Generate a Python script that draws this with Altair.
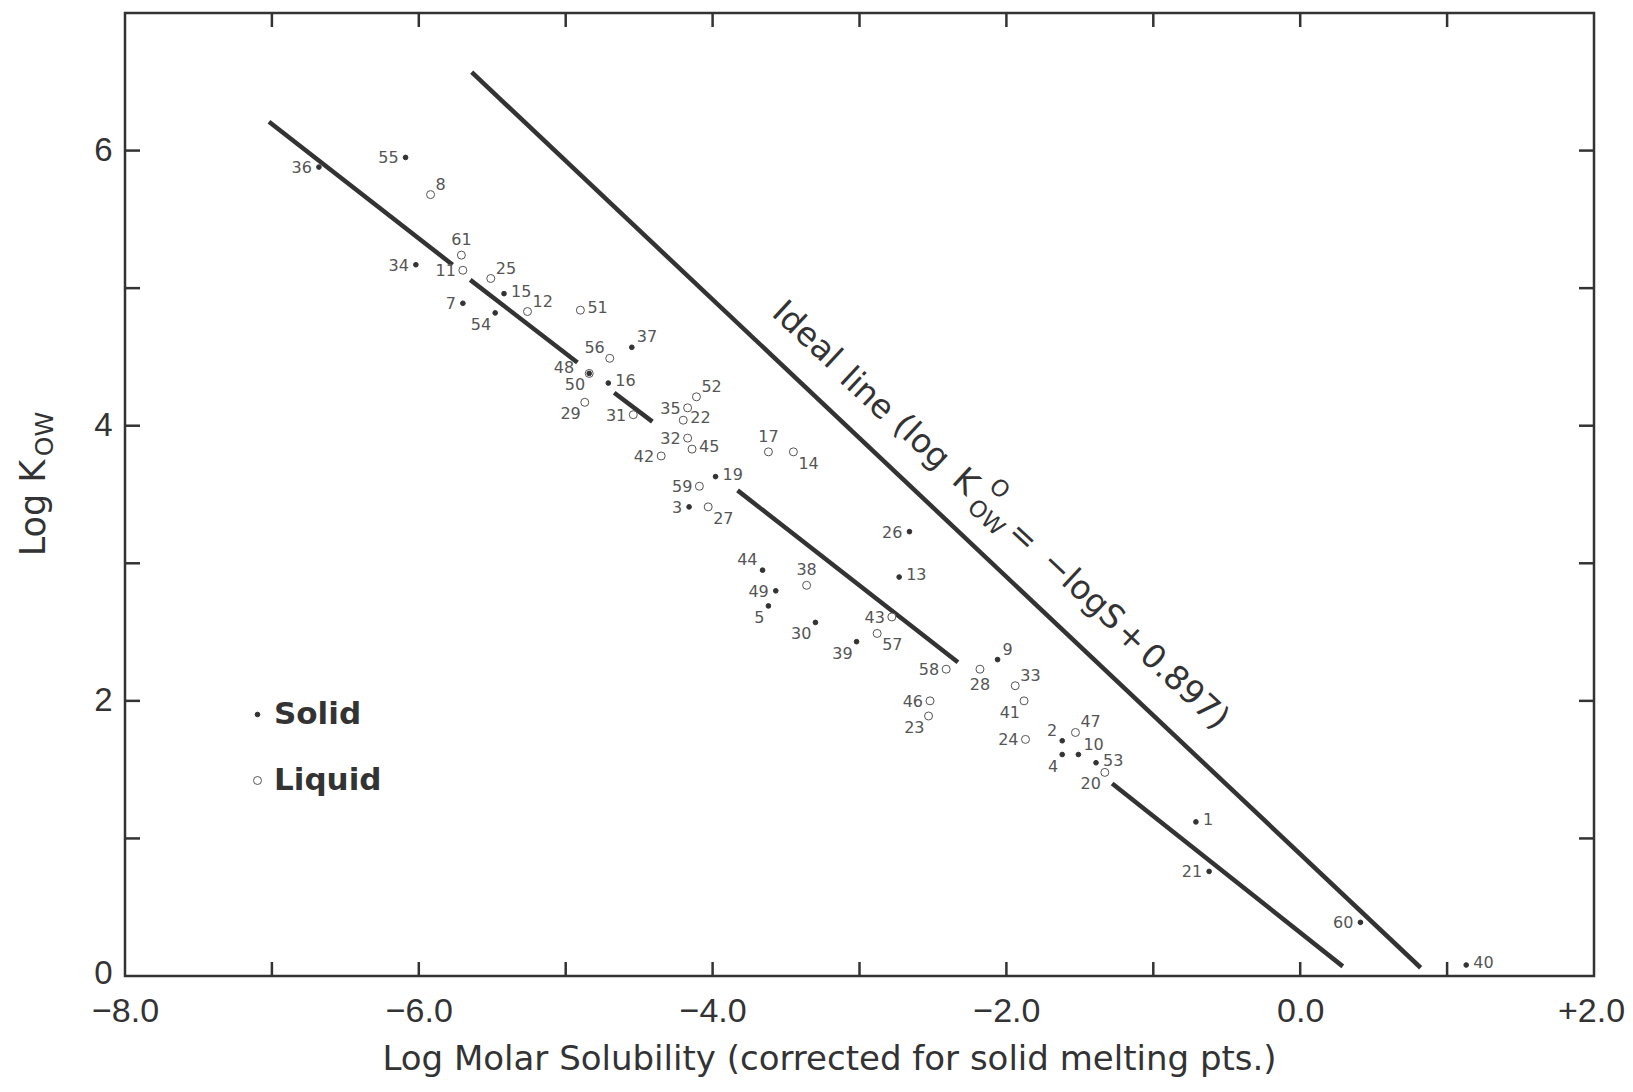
import altair as alt
import pandas as pd

# ---------------- data ----------------
ids = [36, 55, 8, 61, 11, 34, 25, 15, 7, 54, 12, 51, 56, 37, 48, 50, 16, 29, 31, 35,
       52, 22, 32, 45, 42, 17, 14, 59, 19, 3, 27, 26, 44, 38, 13, 49, 5, 43, 30, 57,
       39, 58, 28, 9, 33, 41, 46, 23, 24, 2, 47, 4, 10, 53, 20, 1, 21, 60, 40]
log_s = [-6.68, -6.09, -5.92, -5.71, -5.70, -6.02, -5.51, -5.42, -5.70, -5.48,
         -5.26, -4.90, -4.70, -4.55, -4.84, -4.84, -4.71, -4.87, -4.54, -4.17,
         -4.11, -4.20, -4.17, -4.14, -4.35, -3.62, -3.45, -4.09, -3.98, -4.16,
         -4.03, -2.66, -3.66, -3.36, -2.73, -3.57, -3.62, -2.78, -3.30, -2.88,
         -3.02, -2.41, -2.18, -2.06, -1.94, -1.88, -2.52, -2.53, -1.87, -1.62,
         -1.53, -1.62, -1.51, -1.39, -1.33, -0.71, -0.62, 0.41, 1.13]
log_kow = [5.88, 5.95, 5.68, 5.24, 5.13, 5.17, 5.07, 4.96, 4.89, 4.82,
           4.83, 4.84, 4.49, 4.57, 4.38, 4.38, 4.31, 4.17, 4.08, 4.13,
           4.21, 4.04, 3.91, 3.83, 3.78, 3.81, 3.81, 3.56, 3.63, 3.41,
           3.41, 3.23, 2.95, 2.84, 2.90, 2.80, 2.69, 2.61, 2.57, 2.49,
           2.43, 2.23, 2.23, 2.30, 2.11, 2.00, 2.00, 1.89, 1.72, 1.71,
           1.77, 1.61, 1.61, 1.55, 1.48, 1.12, 0.76, 0.39, 0.08]
states = ["Solid", "Solid", "Liquid", "Liquid", "Liquid", "Solid", "Liquid", "Solid", "Solid", "Solid",
          "Liquid", "Liquid", "Liquid", "Solid", "Liquid", "Solid", "Solid", "Liquid", "Liquid", "Liquid",
          "Liquid", "Liquid", "Liquid", "Liquid", "Liquid", "Liquid", "Liquid", "Liquid", "Solid", "Solid",
          "Liquid", "Solid", "Solid", "Liquid", "Solid", "Solid", "Solid", "Liquid", "Solid", "Liquid",
          "Solid", "Liquid", "Liquid", "Solid", "Liquid", "Liquid", "Liquid", "Liquid", "Liquid", "Solid",
          "Liquid", "Solid", "Solid", "Solid", "Liquid", "Solid", "Solid", "Solid", "Solid"]
# which side of its symbol each number is written on
label_side = ["l", "l", "ur", "a", "l", "l", "ur", "r", "l", "bl",
              "ur", "r", "ul", "ur", "ll", "bl", "r", "bl", "l", "l",
              "ur", "r", "l", "r", "l", "a", "br", "l", "r", "l",
              "br", "l", "ul", "a", "r", "l", "bl", "l", "bl", "br",
              "bl", "l", "b", "ur", "ur", "bl", "l", "bl", "l", "ul",
              "ur", "bl", "ur", "r", "bl", "r", "l", "l", "r"]

# fitted (broken) regression line, segment by segment
reg_seg = [1, 1, 2, 2, 3, 3, 4, 4, 5, 5]
reg_x = [-7.02, -5.77, -5.65, -4.92, -4.67, -4.41, -3.83, -2.33, -1.28, 0.29]
reg_y = [6.21, 5.17, 5.06, 4.46, 4.24, 4.03, 3.53, 2.28, 1.40, 0.07]

# ideal line end points
ideal_x = [-5.64, 0.82]
ideal_y = [6.57, 0.06]

# rotated annotation along the ideal line
ann_words = ["Ideal", "line", "(log", "K", "=", "\u2212logS", "+", "0.897)"]
ann_x = [-3.36, -2.95, -2.58, -2.28, -1.89, -1.48, -1.15, -0.79]
ann_y = [4.66, 4.23, 3.88, 3.59, 3.19, 2.80, 2.46, 2.10]
sub_words = ["OW", "O"]
sub_x = [-2.14, -2.05]
sub_y = [3.33, 3.54]

x_label_values = [-8, -6, -4, -2, 0, 2]
y_label_values = [0, 2, 4, 6]
x_tick_values = [-7, -6, -5, -4, -3, -2, -1, 0, 1]
y_tick_values = [1, 2, 3, 4, 5, 6]

x_title = "Log Molar Solubility (corrected for solid melting pts.)"
y_title_main = "Log K"
y_title_sub = "OW"

# ---------------- chart ----------------
W, H = 1469, 963
INK = "#333333"
FONT = "DejaVu Sans"
TFONT = "Liberation Sans"

pts = pd.DataFrame({"id": ids, "x": log_s, "y": log_kow, "state": states, "side": label_side})
pts["order"] = (pts["state"] == "Solid").astype(int)
pts = pts.sort_values("order", kind="stable")

xsc = alt.Scale(domain=[-8, 2], nice=False, zero=False)
ysc = alt.Scale(domain=[0, 7], nice=False, zero=False)

xaxis = alt.Axis(values=x_label_values, ticks=False, tickSize=0, domain=False, grid=False,
                 labelFontSize=34, labelFont=TFONT, labelColor=INK, labelPadding=18,
                 labelFlush=False, labelOverlap=False,
                 labelOffset={"condition": {"test": "datum.value == 2", "value": -3}, "value": 0},
                 labelExpr="datum.value > 0 ? '+' + format(datum.value, '.1f') : format(datum.value, '.1f')",
                 title=x_title, titleFont=FONT, titleFontSize=34, titleFontWeight="normal",
                 titleColor=INK, titleX=704, titleY=93, titleAlign="center", titleBaseline="alphabetic")
yaxis = alt.Axis(values=y_label_values, ticks=False, tickSize=0, domain=False, grid=False,
                 labelFontSize=33, labelFont=TFONT, labelColor=INK, labelPadding=13,
                 labelFlush=False, labelOverlap=False, format="d", title=None,
                 labelOffset={"condition": {"test": "datum.value == 0", "value": -3}, "value": 0})

leg = alt.Legend(orient="none", legendX=117, legendY=686, title=None, padding=0,
                 labelFont=FONT, labelFontSize=31, labelFontWeight="bold", labelColor=INK,
                 labelOffset=1, rowPadding=34, symbolStrokeWidth=1)

state_dom = ["Solid", "Liquid"]

reg = alt.Chart(pd.DataFrame({"seg": reg_seg, "x": reg_x, "y": reg_y})).mark_line(
    color=INK, strokeWidth=4.5, strokeCap="butt").encode(
    x=alt.X("x:Q", scale=xsc, axis=xaxis),
    y=alt.Y("y:Q", scale=ysc, axis=yaxis),
    detail="seg:N")

ideal = alt.Chart(pd.DataFrame({"x": ideal_x, "y": ideal_y})).mark_line(
    color=INK, strokeWidth=4.5, strokeCap="butt").encode(
    x=alt.X("x:Q", scale=xsc), y=alt.Y("y:Q", scale=ysc))

points = alt.Chart(pts).mark_point(shape="circle", filled=True, strokeWidth=1,
                                   opacity=1, fillOpacity=1).encode(
    x=alt.X("x:Q", scale=xsc), y=alt.Y("y:Q", scale=ysc),
    fill=alt.Fill("state:N", scale=alt.Scale(domain=state_dom, range=[INK, "#ffffff"]), legend=leg),
    stroke=alt.Stroke("state:N", scale=alt.Scale(domain=state_dom, range=[INK, "#555555"]), legend=leg),
    size=alt.Size("state:N", scale=alt.Scale(domain=state_dom, range=[22, 64]), legend=leg),
    order=alt.Order("order:Q"))

side_style = {
    "l": dict(align="right", dx=-7, dy=1),
    "ll": dict(align="right", dx=-15, dy=-5),
    "r": dict(align="left", dx=7, dy=-2),
    "ur": dict(align="left", dx=5, dy=-10),
    "ul": dict(align="right", dx=-5, dy=-10),
    "bl": dict(align="right", dx=-4, dy=12),
    "br": dict(align="left", dx=5, dy=12),
    "a": dict(align="center", dx=0, dy=-15),
    "b": dict(align="center", dx=0, dy=16),
}
label_layers = []
for side, st in side_style.items():
    label_layers.append(
        alt.Chart(pts).transform_filter(alt.datum.side == side).mark_text(
            font=FONT, fontSize=16, color="#555555", baseline="middle", **st).encode(
            x=alt.X("x:Q", scale=xsc), y=alt.Y("y:Q", scale=ysc), text="id:N"))

ann = alt.Chart(pd.DataFrame({"w": ann_words, "x": ann_x, "y": ann_y})).mark_text(
    font=FONT, fontSize=33, color=INK, angle=43, align="center", baseline="middle").encode(
    x=alt.X("x:Q", scale=xsc), y=alt.Y("y:Q", scale=ysc), text="w:N")
ann_sub = alt.Chart(pd.DataFrame({"w": sub_words, "x": sub_x, "y": sub_y})).mark_text(
    font=FONT, fontSize=23, color=INK, angle=43, align="center", baseline="middle").encode(
    x=alt.X("x:Q", scale=xsc), y=alt.Y("y:Q", scale=ysc), text="w:N")

# inward ticks on all four sides
xt = pd.DataFrame({"v": x_tick_values})
yt = pd.DataFrame({"v": y_tick_values})
tick_bottom = alt.Chart(xt).mark_rule(color=INK, strokeWidth=2.5).encode(
    x=alt.X("v:Q", scale=xsc), y=alt.value(H), y2=alt.value(H - 14))
tick_top = alt.Chart(xt).mark_rule(color=INK, strokeWidth=2.5).encode(
    x=alt.X("v:Q", scale=xsc), y=alt.value(0), y2=alt.value(14))
tick_left = alt.Chart(yt).mark_rule(color=INK, strokeWidth=2.5).encode(
    y=alt.Y("v:Q", scale=ysc), x=alt.value(0), x2=alt.value(15))
tick_right = alt.Chart(yt).mark_rule(color=INK, strokeWidth=2.5).encode(
    y=alt.Y("v:Q", scale=ysc), x=alt.value(W), x2=alt.value(W - 15))

ytitle = alt.Chart(pd.DataFrame({"t": [y_title_main]})).mark_text(
    font=FONT, fontSize=35, color=INK, angle=270, align="center", baseline="middle").encode(
    text="t:N", x=alt.value(-91), y=alt.value(495))
ytitle_sub = alt.Chart(pd.DataFrame({"t": [y_title_sub]})).mark_text(
    font=FONT, fontSize=25, color=INK, angle=270, align="center", baseline="middle").encode(
    text="t:N", x=alt.value(-80), y=alt.value(421))

chart = alt.layer(
    reg, ideal, points, *label_layers, ann, ann_sub,
    tick_bottom, tick_top, tick_left, tick_right, ytitle, ytitle_sub
).properties(
    width=W, height=H,
    background="white",
    autosize=alt.AutoSizeParams(type="none"),
    padding={"left": 117, "top": 5, "right": 31, "bottom": 104},
).configure_view(stroke=INK, strokeWidth=2.5)

chart.save("out.html", embed_options={"renderer": "svg", "actions": False})
